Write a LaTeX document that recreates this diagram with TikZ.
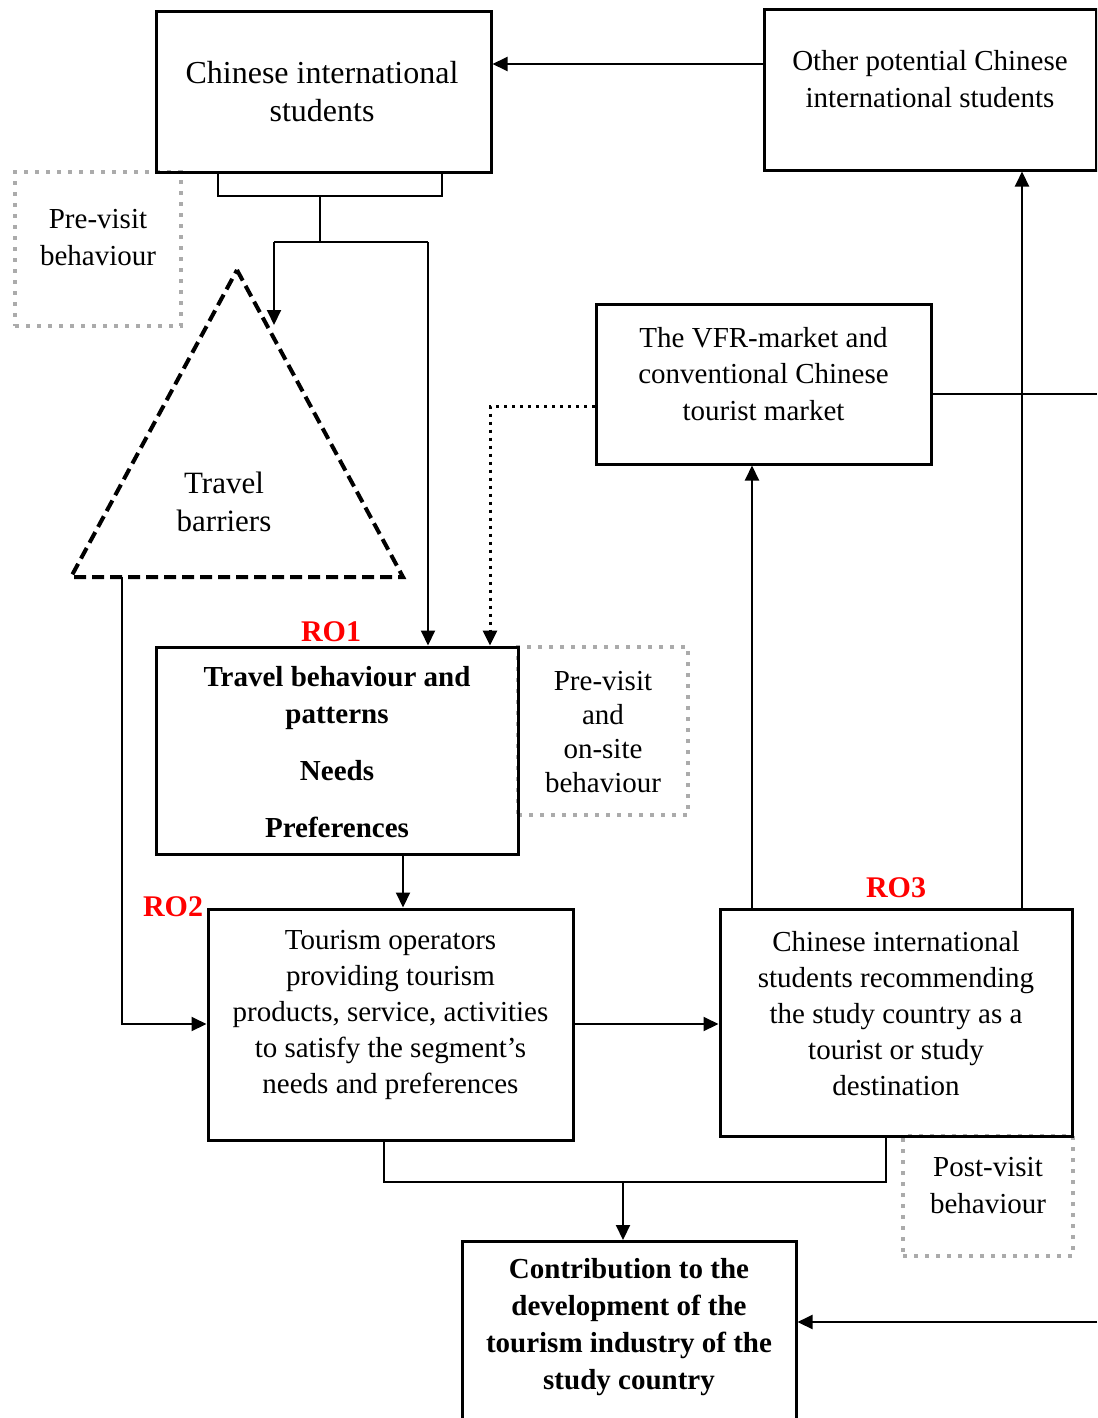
\documentclass[tikz,border=0pt]{standalone}
\usepackage{fontspec}
\setmainfont{Liberation Serif}
\usetikzlibrary{arrows.meta}
\begin{document}
\begin{tikzpicture}[x=1pt,y=-1pt,
  box/.style={draw, line width=3pt, inner sep=0pt},
  graybox/.style={draw=black!33, line width=4pt, dash pattern=on 4pt off 7pt, inner sep=0pt},
  txt/.style={align=center, inner sep=0pt, font=\fontsize{29}{37}\selectfont},
  btxt/.style={txt, font=\fontsize{29}{37}\selectfont\bfseries},
  rolabel/.style={inner sep=0pt, text=red, font=\fontsize{30}{36}\selectfont\bfseries},
  conn/.style={line width=2pt},
  arr/.style={conn, -{Triangle[length=15pt,width=14pt]}},
  barrier/.style={line width=4pt, dash pattern=on 12pt off 6pt, line join=miter}
]
\clip (0,0) rectangle (1097,1418);

% dotted behaviour frames
\node[graybox, minimum width=166pt, minimum height=154pt] (pre) at (98,249) {};
\node[txt] (pret) at (98,238) {Pre-visit\\behaviour};
\node[graybox, minimum width=170pt, minimum height=168pt] (onsite) at (603,731) {};
\node[txt, font=\fontsize{29}{34}\selectfont] (onsitet) at (603,732) {Pre-visit\\and\\on-site\\behaviour};
\node[graybox, minimum width=170pt, minimum height=120pt] (post) at (988,1196) {};
\node[txt] (postt) at (988,1186) {Post-visit\\behaviour};

% main boxes
\node[box, minimum width=335pt, minimum height=160pt] (A) at (323.5,92) {};
\node[txt, font=\fontsize{32}{38}\selectfont] (At) at (322,92) {Chinese international\\students};
\node[box, minimum width=332pt, minimum height=160pt] (B) at (930,90) {};
\node[txt] (Bt) at (930,79) {Other potential Chinese\\international students};
\node[box, minimum width=335pt, minimum height=160pt] (V) at (763.5,384) {};
\node[txt, font=\fontsize{29}{36.5}\selectfont] (Vt) at (763.5,374) {The VFR-market and\\conventional Chinese\\tourist market};
\node[box, minimum width=362pt, minimum height=207pt] (R1) at (337,750.5) {};
\node[btxt] (R1t) at (337,752) {Travel behaviour and\\patterns\\[20pt]Needs\\[20pt]Preferences};
\node[box, minimum width=365pt, minimum height=231pt] (R2) at (390.5,1024.5) {};
\node[txt, font=\fontsize{29}{36}\selectfont] (R2t) at (390.5,1015) {Tourism operators\\providing tourism\\products, service, activities\\to satisfy the segment’s\\needs and preferences};
\node[box, minimum width=352pt, minimum height=227pt] (R3) at (896,1022.5) {};
\node[txt, font=\fontsize{29}{36}\selectfont] (R3t) at (896,1013.5) {Chinese international\\students recommending\\the study country as a\\tourist or study\\destination};
\node[box, minimum width=334pt, minimum height=200pt, anchor=north] (C) at (629,1240) {};
\node[btxt] (Ct) at (629,1327) {Contribution to the\\development of the\\tourism industry of the\\study country};

% research objective labels
\node[rolabel] (ro1) at (331,632) {RO1};
\node[rolabel] (ro2) at (173,907) {RO2};
\node[rolabel] (ro3) at (896,888) {RO3};

% travel barriers triangle
\coordinate (tapex) at (237,270);
\coordinate (tright) at (403,577);
\coordinate (tleft) at (71,577);
\draw[barrier] (tapex) -- (tright) -- (tleft) -- cycle;
\node[txt, font=\fontsize{31}{38}\selectfont] (tt) at (224,502) {Travel\\barriers};

% connectors
\draw[arr] (B.west |- 0,64) -- (A.east |- 0,64);

\coordinate (brA) at (320,196);
\coordinate (spA) at (320,242);
\draw[conn] (A.south -| 218,0) -- (218,196) -- (442,196) -- (A.south -| 442,0);
\draw[conn] (brA) -- (spA);
\draw[conn] (274,242) -- (428,242);
\draw[arr] (274,242) -- (274,325);
\draw[arr] (428,242) -- (R1.north -| 428,0);

\draw[arr] (122,577) -- (122,1024) -- (R2.west |- 0,1024);
\draw[arr] (R1.south -| 403,0) -- (R2.north -| 403,0);
\draw[arr, line width=3pt, dash pattern=on 3pt off 5pt] (V.west |- 0,406) -- (490,406) -- (R1.north -| 490,0);
\draw[conn] (V.east |- 0,394) -- (1097,394);
\draw[arr] (R2.east |- 0,1024) -- (R3.west |- 0,1024);
\draw[arr] (R3.north -| 752,0) -- (V.south -| 752,0);
\draw[arr] (R3.north -| 1022,0) -- (B.south -| 1022,0);

\coordinate (brB) at (623,1182);
\draw[conn] (R2.south -| 384,0) -- (384,1182) -- (886,1182) -- (R3.south -| 886,0);
\draw[arr] (brB) -- (C.north -| brB);
\draw[arr] (1097,1322) -- (C.east |- 0,1322);
\end{tikzpicture}
\end{document}
